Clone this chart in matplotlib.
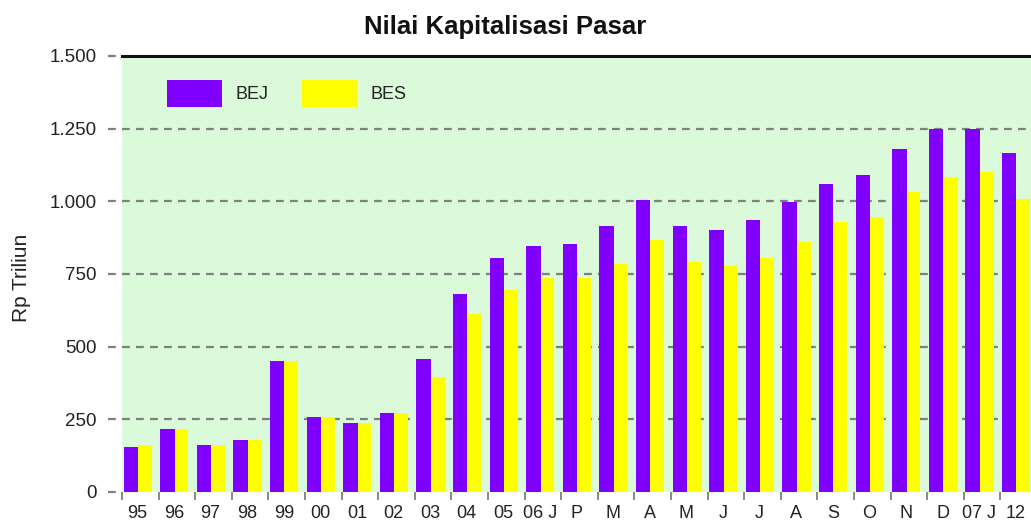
import matplotlib
matplotlib.use("Agg")
import matplotlib.pyplot as plt
from matplotlib.ticker import FixedLocator, FuncFormatter
import numpy as np

# -------------------------------
# Data (Rp Triliun)
# -------------------------------
labels = ["95", "96", "97", "98", "99", "00", "01", "02", "03", "04", "05",
          "06 J", "P", "M", "A", "M", "J", "J", "A", "S", "O", "N", "D",
          "07 J", "12"]
bej = [156, 218, 163, 178, 452, 259, 239, 273, 458, 680, 804,
       845, 852, 914, 1003, 914, 900, 935, 997, 1058, 1092, 1181, 1250,
       1250, 1167]
bes = [162, 218, 163, 178, 452, 259, 239, 273, 397, 611, 694,
       735, 735, 783, 866, 790, 776, 804, 859, 928, 947, 1031, 1085,
       1100, 1009]
yticks = [0, 250, 500, 750, 1000, 1250, 1500]

# -------------------------------
# Style
# -------------------------------
plt.rcParams['font.family'] = ['Liberation Sans', 'DejaVu Sans']
text_col = '#222222'
grid_col = '#7f7f7f'

fig = plt.figure(figsize=(10.31, 5.21), dpi=100)
ax = fig.add_axes([122 / 1031, 29 / 521, 909 / 1031, 436 / 521])
ax.set_facecolor('#dafada')

x = np.arange(len(labels))
ax.bar(x + 0.24, bej, width=0.39, color='#8000ff', label='BEJ', zorder=3)
ax.bar(x + 0.625, bes, width=0.38, color='#ffff00', label='BES', zorder=3)

ax.set_xlim(0, 909 / 36.6)
ax.set_ylim(0, 1500)

# gridlines (extend a bit left of the plot like tick stubs)
for y in yticks:
    if 0 < y < 1500:
        ax.axhline(y, xmin=-0.015, xmax=1, color=grid_col, lw=1.6,
                   ls=(0, (3.5, 2.8)), clip_on=False, zorder=1)
    else:
        ax.axhline(y, xmin=-0.015, xmax=0, color=grid_col, lw=1.6,
                   ls=(0, (3.5, 2.8)), clip_on=False, zorder=1)

for s in ['left', 'right', 'bottom']:
    ax.spines[s].set_visible(False)
ax.spines['top'].set_linewidth(2.2)
ax.spines['top'].set_color('#111111')

# y axis
ax.yaxis.set_major_locator(FixedLocator(yticks))
ax.yaxis.set_major_formatter(FuncFormatter(lambda v, p: f"{v:,.0f}".replace(",", ".")))
ax.tick_params(axis='y', length=0, pad=18, labelsize=13.5, labelcolor=text_col)
ax.set_ylabel('Rp Triliun', fontsize=15, color=text_col)
ax.yaxis.set_label_coords(-(122 - 31) / 909, 0.49)

# x axis: ticks at group boundaries, labels near group centres
ax.xaxis.set_major_locator(FixedLocator(x))
ax.xaxis.set_major_formatter(FuncFormatter(lambda v, p: ''))
ax.xaxis.set_minor_locator(FixedLocator(x + 0.42))
ax.set_xticklabels(labels, minor=True)
ax.tick_params(axis='x', which='major', length=6, width=1.3, color=grid_col,
               direction='out')
ax.tick_params(axis='x', which='minor', length=0, pad=9, labelsize=13,
               labelcolor=text_col)

# legend
ax.legend(loc='upper left', bbox_to_anchor=(45 / 909, 1 - 24 / 436),
          ncol=2, frameon=False, fontsize=13, handlelength=3.05,
          handleheight=1.9, handletextpad=0.75, columnspacing=1.85,
          borderpad=0, borderaxespad=0, labelcolor=text_col)

fig.text(505 / 1031, 1 - 27 / 521, 'Nilai Kapitalisasi Pasar', ha='center',
         va='center', fontsize=18.5, fontweight='bold', color='#111111')

fig.savefig('out.png', dpi=100)
